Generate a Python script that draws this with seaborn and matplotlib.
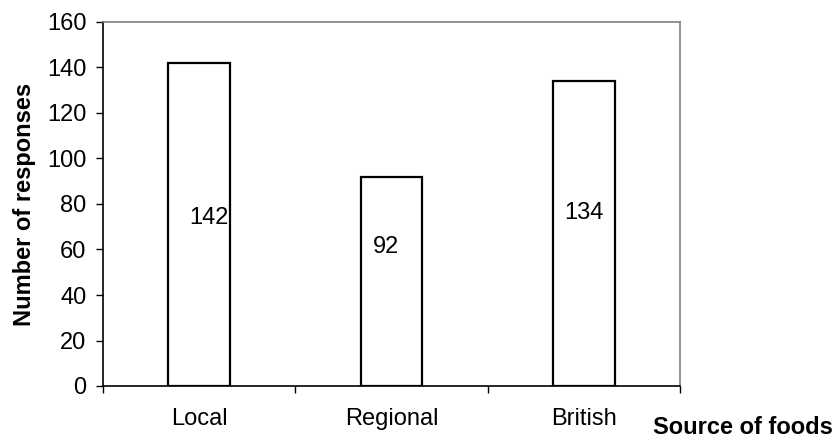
import matplotlib
matplotlib.use("Agg")
import matplotlib.pyplot as plt
import seaborn as sns
import pandas as pd

# Survey responses by source of foods
sources = ["Local", "Regional", "British"]
responses = [142, 92, 134]
value_labels = ["142", "92", "134"]

# Where each value label sits (x offset from the bar centre, y in data units)
label_dx = [0.05, -0.03, 0.0]
label_y = [74, 61, 76]

sns.set_theme(style="white")
plt.rcParams["font.family"] = ["Liberation Sans", "DejaVu Sans"]

FS = 17

df = pd.DataFrame({"source": sources, "responses": responses})

fig = plt.figure(figsize=(8.39, 4.46), dpi=100)
ax = fig.add_axes([103 / 839, 1 - 386 / 446, (680 - 103) / 839, (386 - 22) / 446])

sns.barplot(data=df, x="source", y="responses", order=sources,
            color="white", edgecolor="black", linewidth=1.6,
            width=0.32, ax=ax)

ax.set_ylim(0, 160)
ax.set_xlim(-0.5, 2.5)
ax.set_yticks(range(0, 161, 20))
ax.set_xticks([-0.5, 0.5, 1.5, 2.5], minor=False)
ax.set_xticklabels([])
ax.set_xticks(range(len(sources)), minor=True)
ax.set_xticklabels(sources, minor=True)

ax.tick_params(axis="x", which="major", direction="out", length=5, width=1,
               color="black", bottom=True)
ax.tick_params(axis="x", which="minor", length=0, labelsize=FS, pad=16,
               labelcolor="black")
ax.tick_params(axis="y", direction="out", length=5, width=1, color="black",
               left=True, labelsize=FS, pad=7, labelcolor="black")

for side in ("left", "bottom"):
    ax.spines[side].set_color("black")
    ax.spines[side].set_linewidth(1.2)
for side in ("top", "right"):
    ax.spines[side].set_color("#808080")
    ax.spines[side].set_linewidth(1.2)

ax.set_xlabel("")
ax.set_ylabel("Number of responses", fontsize=FS, fontweight="bold",
              labelpad=8, color="black")

for i, (txt, dx, y) in enumerate(zip(value_labels, label_dx, label_y)):
    ax.text(i + dx, y, txt, ha="center", va="center", fontsize=FS,
            color="black")

fig.text(833 / 839, 1 - 428 / 446, "Source of foods", ha="right",
         va="center", fontsize=FS, fontweight="bold", color="black")

fig.savefig("out.png", dpi=100)
